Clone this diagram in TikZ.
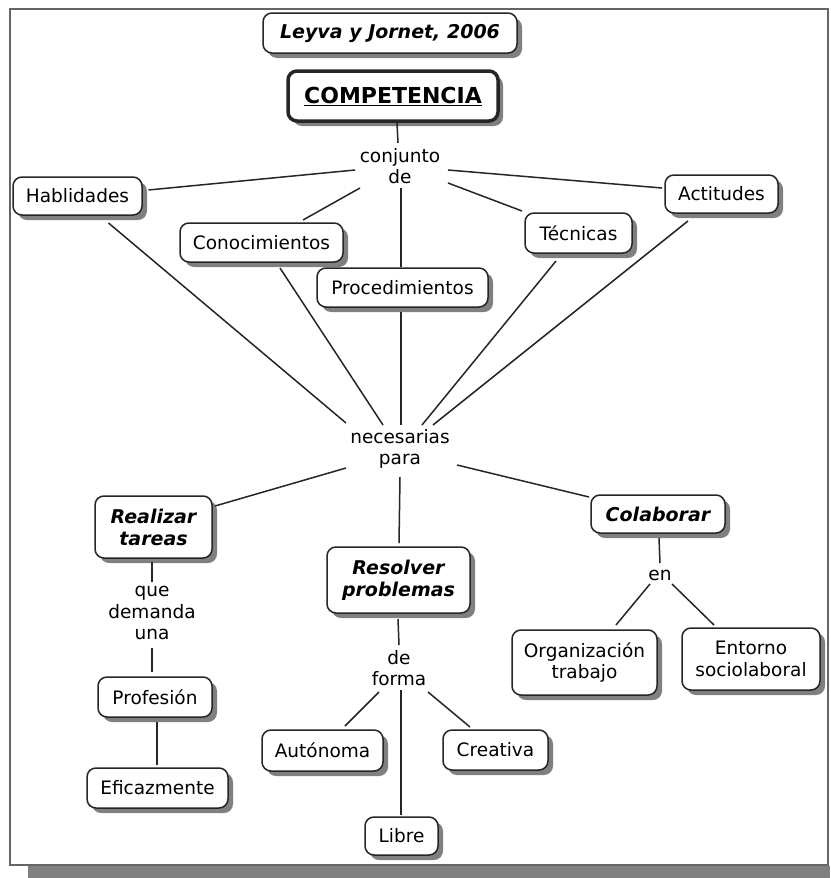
\documentclass[tikz,border=0pt]{standalone}
\usepackage{fontspec}
\setmainfont{DejaVu Sans}
\usetikzlibrary{calc,shadows}
\begin{document}
\begin{tikzpicture}[x=1pt,y=-1pt,
  box/.style={draw=black!85, line width=1.5pt, rounded corners=9pt, fill=white, inner sep=0pt, align=center,
    drop shadow={shadow xshift=5pt, shadow yshift=-5pt, fill=black!50, opacity=1},
    font=\fontsize{18.5}{21.5}\selectfont},
  bi/.style={font=\fontsize{19}{22}\selectfont\bfseries\itshape},
  lbl/.style={inner sep=0pt, align=center, font=\fontsize{18.5}{21.5}\selectfont},
  link/.style={line width=1.5pt, draw=black!85},
]
\useasboundingbox (0,0) rectangle (830,878);
\fill[black!50] (28,866) rectangle (830,878);
\draw[draw=black!60, line width=2pt, fill=white] (10,9) rectangle (828,865);

\node[box, bi, minimum width=254pt, minimum height=40pt] (leyva) at (390,33) {Leyva y Jornet, 2006};
\node[box, line width=3.5pt, font=\fontsize{22}{26}\selectfont\bfseries, minimum width=210pt, minimum height=50pt] (comp) at (393,96) {\underline{COMPETENCIA}};
\node[lbl] (conj) at (400,166) {conjunto\\de};
\node[box, minimum width=129pt, minimum height=38pt] (hab) at (77.5,196) {Hablidades};
\node[box, minimum width=163pt, minimum height=39pt] (con) at (261.5,242.5) {Conocimientos};
\node[box, minimum width=171pt, minimum height=39pt] (proc) at (402.5,287.5) {Procedimientos};
\node[box, minimum width=107pt, minimum height=40pt] (tec) at (578.5,233) {Técnicas};
\node[box, minimum width=113pt, minimum height=38pt] (act) at (721.5,194) {Actitudes};
\node[lbl] (nec) at (400,449) {necesarias\\para};
\node[box, bi, minimum width=117pt, minimum height=62pt] (real) at (153.5,527) {Realizar\\tareas};
\node[box, bi, minimum width=143pt, minimum height=66pt] (resol) at (398.5,580) {Resolver\\problemas};
\node[box, bi, minimum width=134pt, minimum height=38pt] (colab) at (658,514) {Colaborar};
\node[lbl] (que) at (152,613) {que\\demanda\\una};
\node[box, minimum width=114pt, minimum height=40pt] (prof) at (155,697) {Profesión};
\node[box, minimum width=141pt, minimum height=40pt] (efic) at (157.5,788) {Eficazmente};
\node[lbl] (def) at (399,668) {de\\forma};
\node[box, minimum width=121pt, minimum height=41pt] (aut) at (322.5,750.5) {Autónoma};
\node[box, minimum width=105pt, minimum height=40pt] (crea) at (495.5,750) {Creativa};
\node[box, minimum width=73pt, minimum height=38pt] (libre) at (401.5,836) {Libre};
\node[lbl] (en) at (660,575) {en};
\node[box, minimum width=145pt, minimum height=65pt] (org) at (584.5,662.5) {Organización\\trabajo};
\node[box, minimum width=138pt, minimum height=62pt] (ent) at (751,659) {Entorno\\sociolaboral};

\draw[link] ($(comp)+(4,27)$) -- ($(conj)+(-2,-23)$);
\draw[link] ($(conj)+(-45,4)$) -- ($(hab)+(71,-6)$);
\draw[link] ($(conj)+(-40,22)$) -- ($(con)+(41.5,-22.5)$);
\draw[link] ($(conj)+(1,22)$) -- ($(proc)+(-1.5,-20.5)$);
\draw[link] ($(conj)+(48,17)$) -- ($(tec)+(-56.5,-22)$);
\draw[link] ($(conj)+(48,4)$) -- ($(act)+(-59.5,-6)$);
\draw[link] ($(hab)+(31,27)$) -- ($(nec)+(-54,-26)$);
\draw[link] ($(con)+(18.5,25.5)$) -- ($(nec)+(-17,-24)$);
\draw[link] ($(proc)+(-1.5,24.5)$) -- ($(nec)+(1,-24)$);
\draw[link] ($(tec)+(-22.5,28)$) -- ($(nec)+(22,-24)$);
\draw[link] ($(act)+(-33.5,27)$) -- ($(nec)+(33,-24)$);
\draw[link] ($(nec)+(-54,19)$) -- ($(real)+(61.5,-21)$);
\draw[link] ($(nec)+(0,28)$) -- ($(resol)+(0.5,-37)$);
\draw[link] ($(nec)+(57,16)$) -- ($(colab)+(-69,-17)$);
\draw[link] ($(real)+(-1.5,35)$) -- ($(que)+(0,-31)$);
\draw[link] ($(que)+(0,35)$) -- ($(prof)+(-3,-25)$);
\draw[link] ($(prof)+(2,25)$) -- ($(efic)+(-0.5,-23)$);
\draw[link] ($(resol)+(-0.5,39)$) -- ($(def)+(0,-23)$);
\draw[link] ($(def)+(-20,24)$) -- ($(aut)+(22.5,-24.5)$);
\draw[link] ($(def)+(2,22)$) -- ($(libre)+(-0.5,-21)$);
\draw[link] ($(def)+(29,24)$) -- ($(crea)+(-25.5,-23)$);
\draw[link] ($(colab)+(1,24)$) -- ($(en)+(0,-12)$);
\draw[link] ($(en)+(-10,9)$) -- ($(org)+(31.5,-37.5)$);
\draw[link] ($(en)+(12,9)$) -- ($(ent)+(-37,-34)$);
\end{tikzpicture}
\end{document}
